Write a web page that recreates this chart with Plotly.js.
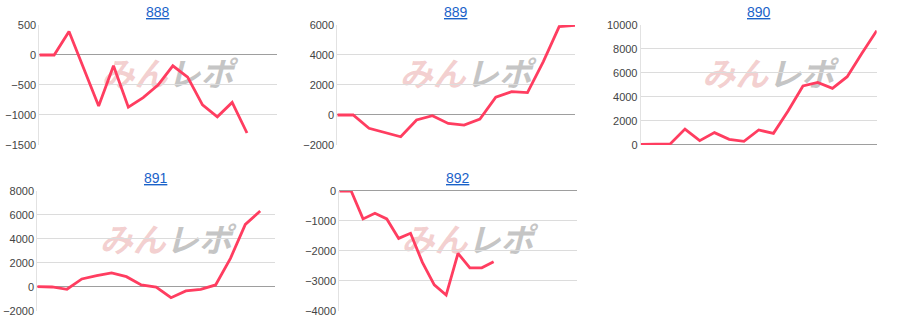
<!DOCTYPE html>
<html>
<head>
<meta charset="utf-8">
<script src="https://cdn.plot.ly/plotly-3.0.1.min.js"></script>
<style>html,body{margin:0;padding:0;background:#fff;}#chart{width:900px;height:332px;}</style>
</head>
<body>
<div id="chart"></div>
<script>
// Chart titles (machine numbers)
const titles = ["888", "889", "890", "891", "892"];
// Number of x slots (days) shown on each chart's axis
const slotCounts = [17, 16, 17, 17, 21];
// Series values (cumulative difference) per chart
const values888 = [0, 0, 390, -230, -850, -180, -870, -710, -500, -180, -370, -830, -1030, -790, -1300];
const values889 = [0, 0, -890, -1180, -1450, -330, -50, -560, -670, -270, 1180, 1560, 1490, 3560, 5890, 5970];
const values890 = [50, 50, 90, 1330, 360, 1030, 470, 310, 1250, 970, 2860, 4920, 5220, 4720, 5690, 7640, 9530];
const values891 = [30, 0, -190, 670, 940, 1170, 860, 170, 0, -890, -330, -190, 170, 2390, 5220, 6330];
const values892 = [0, 0, -930, -740, -930, -1580, -1410, -2380, -3130, -3470, -2080, -2560, -2560, -2360];
// Y axis ranges and tick steps
const yMins = [-1500, -2000, 0, -2000, -4000];
const yMaxs = [500, 6000, 10000, 8000, 0];
const ySteps = [500, 2000, 2000, 2000, 1000];
// Watermark text
const wmLeft = "みん";
const wmRight = "レポ";

const series = [values888, values889, values890, values891, values892];

const xDomains = [[0.0437, 0.3074], [0.3748, 0.6389], [0.7119, 0.9741], [0.0414, 0.3056], [0.3770, 0.6408]];
const yDomains = [[0.5633, 0.9247], [0.5633, 0.9247], [0.5633, 0.9247], [0.0633, 0.4247], [0.0633, 0.4247]];

const traces = [];
const layout = {
  width: 900, height: 332,
  margin: {l: 0, r: 0, t: 0, b: 0},
  paper_bgcolor: '#fff', plot_bgcolor: '#fff',
  showlegend: false,
  font: {family: 'Liberation Sans, Arial, sans-serif', size: 11, color: '#444'},
  annotations: [], shapes: []
};

series.forEach((vals, i) => {
  const n = i + 1;
  const xa = 'x' + (n === 1 ? '' : n);
  const ya = 'y' + (n === 1 ? '' : n);
  traces.push({
    x: vals.map((_, k) => k), y: vals,
    xaxis: xa, yaxis: ya,
    type: 'scatter', mode: 'lines',
    line: {color: '#ff3d60', width: 2.8},
    hoverinfo: 'skip'
  });
  layout['xaxis' + (n === 1 ? '' : n)] = {
    domain: xDomains[i], anchor: ya,
    range: [0, slotCounts[i] - 1],
    showgrid: false, zeroline: false, showticklabels: false, ticks: '',
    showline: false, fixedrange: true
  };
  layout['yaxis' + (n === 1 ? '' : n)] = {
    domain: yDomains[i], anchor: xa,
    range: [yMins[i], yMaxs[i]], dtick: ySteps[i], tick0: 0,
    tickformat: 'd', exponentformat: 'none',
    showgrid: true, gridcolor: '#dcdcdc', gridwidth: 1,
    zeroline: true, zerolinecolor: '#9e9e9e', zerolinewidth: 1,
    showline: true, linecolor: '#e2e2e2', linewidth: 1,
    ticks: '', tickfont: {size: 11, color: '#444'},
    fixedrange: true
  };
  const xd = xDomains[i], yd = yDomains[i];
  const xm = (xd[0] + xd[1]) / 2;
  layout.annotations.push({
    xref: 'paper', yref: 'paper',
    x: xm, y: yd[1] + 0.01, xanchor: 'center', yanchor: 'bottom',
    text: '<u>' + titles[i] + '</u>', showarrow: false,
    font: {size: 14, color: '#1a62c9', family: 'Liberation Sans, Arial, sans-serif'}
  });
  const cx = xd[0] + (xd[1] - xd[0]) * 0.54;
  const cy = yd[1] - (yd[1] - yd[0]) * 0.43;
  layout.shapes.push({
    type: 'rect', xref: 'paper', yref: 'paper', layer: 'below',
    x0: cx - 0.09, x1: cx + 0.09, y0: cy - 0.05, y1: cy + 0.05,
    line: {width: 0}, fillcolor: 'rgba(0,0,0,0)',
    label: {
      text: '<b><i><span style="color:rgba(222,120,120,0.5)">' + wmLeft + '</span><span style="color:rgba(140,140,140,0.72)">' + wmRight + '</span></i></b>',
      textposition: 'middle center',
      font: {size: 33, color: 'rgba(150,150,150,0.7)', family: 'Noto Sans CJK JP'}
    }
  });
});

Plotly.newPlot('chart', traces, layout, {staticPlot: true, displayModeBar: false});
</script>
</body>
</html>
